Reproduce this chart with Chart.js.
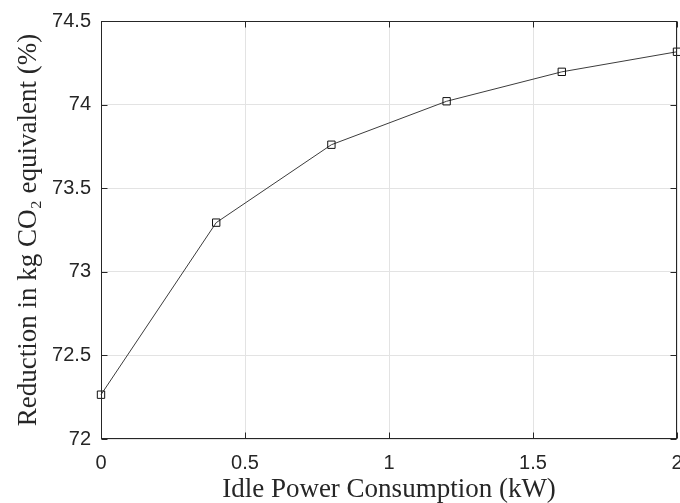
<!DOCTYPE html>
<html>
<head>
<meta charset="utf-8">
<script src="https://cdn.jsdelivr.net/npm/chart.js@4/dist/chart.umd.min.js"></script>
<style>
html,body{margin:0;padding:0;background:#fff;}
canvas{display:block;}
</style>
</head>
<body>
<canvas id="c" width="680" height="503"></canvas>
<script>
// Data
const idlePower = [0, 0.4, 0.8, 1.2, 1.6, 2.0];            // kW
const reduction = [72.265, 73.294, 73.76, 74.02, 74.196, 74.316]; // %
const xTicks = [0, 0.5, 1, 1.5, 2];
const yTicks = [72, 72.5, 73, 73.5, 74, 74.5];
const xTickLabels = ['0', '0.5', '1', '1.5', '2'];
const yTickLabels = ['72', '72.5', '73', '73.5', '74', '74.5'];
const xTitle = 'Idle Power Consumption (kW)';
const yTitle = 'Reduction in kg CO\u2082 equivalent (%)';

const axisColor = '#262626';
const gridColor = '#e3e3e3';

const boxPlugin = {
  id: 'box',
  afterDraw(chart) {
    const {ctx, chartArea: a, scales: {x, y}} = chart;
    ctx.save();
    ctx.strokeStyle = axisColor;
    ctx.lineWidth = 1;
    const L = Math.round(a.left) + 0.5, R = Math.round(a.right) - 0.5;
    const T = Math.round(a.top) + 0.5, B = Math.round(a.bottom) - 0.5;
    ctx.strokeRect(L, T, R - L, B - T);
    const tl = 6;
    ctx.beginPath();
    xTicks.forEach(v => {
      const px = Math.round(x.getPixelForValue(v)) + 0.5;
      ctx.moveTo(px, B); ctx.lineTo(px, B - tl);
      ctx.moveTo(px, T); ctx.lineTo(px, T + tl);
    });
    yTicks.forEach(v => {
      const py = Math.round(y.getPixelForValue(v)) + 0.5;
      ctx.moveTo(L, py); ctx.lineTo(L + tl, py);
      ctx.moveTo(R, py); ctx.lineTo(R - tl, py);
    });
    ctx.stroke();
    ctx.restore();
  }
};

new Chart(document.getElementById('c'), {
  type: 'line',
  data: {
    labels: idlePower,
    datasets: [{
      data: idlePower.map((v, i) => ({x: v, y: reduction[i]})),
      borderColor: '#3c3c3c',
      borderWidth: 1,
      tension: 0,
      pointStyle: 'rect',
      pointRadius: 5.2,
      pointBorderWidth: 1,
      pointBorderColor: '#111111',
      pointBackgroundColor: 'rgba(0,0,0,0)',
      clip: false
    }]
  },
  options: {
    responsive: false,
    devicePixelRatio: 1,
    animation: false,
    layout: {autoPadding: false, padding: {left: 0, right: 3, top: 21, bottom: 0}},
    plugins: {legend: {display: false}, tooltip: {enabled: false}},
    scales: {
      x: {
        type: 'linear',
        min: 0, max: 2,
        afterBuildTicks: s => { s.ticks = xTicks.map(v => ({value: v})); },
        afterFit: s => { s.height = 64; s.paddingLeft = 0; s.paddingRight = 0; },
        ticks: {
          callback: (v) => xTickLabels[xTicks.indexOf(v)],
          color: axisColor,
          font: {family: 'Liberation Sans', size: 20},
          padding: 12,
          maxRotation: 0
        },
        grid: {color: gridColor, drawTicks: false},
        border: {display: false},
        title: {
          display: true, text: xTitle, color: axisColor,
          font: {family: 'Liberation Serif', size: 27, lineHeight: 1},
          padding: {top: 0, bottom: 0}
        }
      },
      y: {
        type: 'linear',
        min: 72, max: 74.5,
        afterBuildTicks: s => { s.ticks = yTicks.map(v => ({value: v})); },
        afterFit: s => { s.width = 101; s.paddingTop = 0; s.paddingBottom = 0; },
        ticks: {
          callback: (v) => yTickLabels[yTicks.indexOf(v)],
          color: axisColor,
          font: {family: 'Liberation Sans', size: 20},
          padding: 10
        },
        grid: {color: gridColor, drawTicks: false},
        border: {display: false},
        title: {
          display: true, text: yTitle, color: axisColor,
          font: {family: 'Liberation Serif', size: 27, lineHeight: 1},
          padding: {top: 15, bottom: 0}
        }
      }
    }
  },
  plugins: [boxPlugin]
});
</script>
</body>
</html>
